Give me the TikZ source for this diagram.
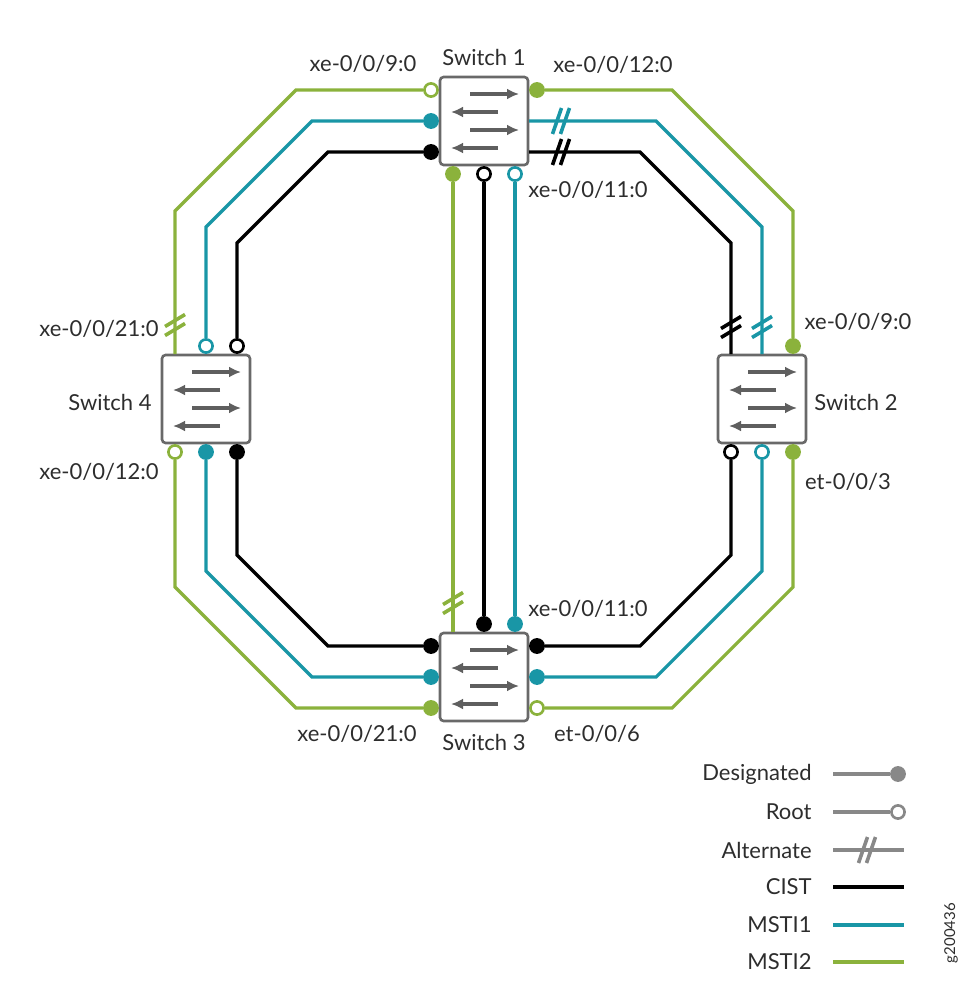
\documentclass[tikz,border=0pt]{standalone}
\usepackage{fontspec}
\setmainfont{Lato}
\usetikzlibrary{shapes,arrows.meta,positioning}

\definecolor{tealc}{RGB}{25,150,166}
\definecolor{greenc}{RGB}{139,178,60}
\definecolor{boxgray}{RGB}{105,105,105}
\definecolor{arrgray}{RGB}{95,95,95}
\definecolor{lgdgray}{RGB}{136,136,136}
\definecolor{textgray}{RGB}{45,45,45}

\begin{document}
\begin{tikzpicture}[x=0.5pt,y=-0.5pt,
    cist/.style={line width=1.6pt, black},
    msti1/.style={line width=1.6pt, tealc},
    msti2/.style={line width=1.6pt, greenc},
    lgdline/.style={line width=1.6pt, lgdgray},
    switchbox/.style={draw=boxgray, line width=1.3pt, fill=white, rounded corners=1.8pt, minimum size=44pt, inner sep=0pt},
    swarrow/.style={line width=1.6pt, arrgray, >={Latex[length=6pt,width=5.5pt]}, ->},
    desig/.style={circle, draw=#1, fill=#1, line width=1.3pt, inner sep=0pt, minimum size=6.6pt},
    root/.style={circle, draw=#1, fill=white, line width=1.3pt, inner sep=0pt, minimum size=6.6pt},
    lbl/.style={text=textgray, font=\fontsize{11}{13}\selectfont, inner sep=0pt},
    hashh/.pic={\draw[line width=1.8pt] (-8.5,13) -- (0.5,-13) (-0.5,13) -- (8.5,-13);},
    hashv/.pic={\draw[line width=1.8pt] (-10,1.5) -- (10,-10.5) (-10,10.5) -- (10,-1.5);}]
    \useasboundingbox (0,0) rectangle (975,990);

    % switches
    \node [switchbox] (sw1) at (484,121) {};
    \node [switchbox] (sw2) at (762,399) {};
    \node [switchbox] (sw3) at (484,677) {};
    \node [switchbox] (sw4) at (206,399) {};

    \foreach \s in {sw1,sw2,sw3,sw4} {
        \draw[swarrow] ([shift={(-14,-27)}]\s.center) -- ++(49,0);
        \draw[swarrow] ([shift={(14,-9)}]\s.center) -- ++(-47,0);
        \draw[swarrow] ([shift={(-14,9)}]\s.center) -- ++(49,0);
        \draw[swarrow] ([shift={(14,27)}]\s.center) -- ++(-47,0);
    }

    % ports of switch 1
    \node [root=greenc] (s1gw) at ([shift={(-53,-31)}]sw1.center) {};
    \node [desig=tealc] (s1tw) at ([shift={(-53,0)}]sw1.center) {};
    \node [desig=black] (s1kw) at ([shift={(-53,31)}]sw1.center) {};
    \node [desig=greenc] (s1ge) at ([shift={(53,-31)}]sw1.center) {};
    \coordinate (s1te) at ([shift={(45,0)}]sw1.center);
    \coordinate (s1ke) at ([shift={(45,31)}]sw1.center);
    \node [desig=greenc] (s1gs) at ([shift={(-31,53)}]sw1.center) {};
    \node [root=black] (s1ks) at ([shift={(0,53)}]sw1.center) {};
    \node [root=tealc] (s1ts) at ([shift={(31,53)}]sw1.center) {};

    % ports of switch 2
    \coordinate (s2kn) at ([shift={(-31,-45)}]sw2.center);
    \coordinate (s2tn) at ([shift={(0,-45)}]sw2.center);
    \node [desig=greenc] (s2gn) at ([shift={(31,-53)}]sw2.center) {};
    \node [root=black] (s2ks) at ([shift={(-31,53)}]sw2.center) {};
    \node [root=tealc] (s2ts) at ([shift={(0,53)}]sw2.center) {};
    \node [desig=greenc] (s2gs) at ([shift={(31,53)}]sw2.center) {};

    % ports of switch 3
    \coordinate (s3gn) at ([shift={(-31,-45)}]sw3.center);
    \node [desig=black] (s3kn) at ([shift={(0,-53)}]sw3.center) {};
    \node [desig=tealc] (s3tn) at ([shift={(31,-53)}]sw3.center) {};
    \node [desig=black] (s3kw) at ([shift={(-53,-31)}]sw3.center) {};
    \node [desig=tealc] (s3tw) at ([shift={(-53,0)}]sw3.center) {};
    \node [desig=greenc] (s3gw) at ([shift={(-53,31)}]sw3.center) {};
    \node [desig=black] (s3ke) at ([shift={(53,-31)}]sw3.center) {};
    \node [desig=tealc] (s3te) at ([shift={(53,0)}]sw3.center) {};
    \node [root=greenc] (s3ge) at ([shift={(53,31)}]sw3.center) {};

    % ports of switch 4
    \coordinate (s4gn) at ([shift={(-31,-45)}]sw4.center);
    \node [root=tealc] (s4tn) at ([shift={(0,-53)}]sw4.center) {};
    \node [root=black] (s4kn) at ([shift={(31,-53)}]sw4.center) {};
    \node [root=greenc] (s4gs) at ([shift={(-31,53)}]sw4.center) {};
    \node [desig=tealc] (s4ts) at ([shift={(0,53)}]sw4.center) {};
    \node [desig=black] (s4ks) at ([shift={(31,53)}]sw4.center) {};

    % MSTI2
    \draw[msti2] (s1gw) -- ++(-135,0) -- ++(-121,121) -- (s4gn);
    \draw[msti2] (s4gs) -- ++(0,135) -- ++(121,121) -- (s3gw);
    \draw[msti2] (s3ge) -- ++(135,0) -- ++(121,-121) -- (s2gs);
    \draw[msti2] (s2gn) -- ++(0,-135) -- ++(-121,-121) -- (s1ge);
    \draw[msti2] (s1gs) -- (s3gn);

    % MSTI1
    \draw[msti1] (s1tw) -- ++(-119,0) -- ++(-106,106) -- (s4tn);
    \draw[msti1] (s4ts) -- ++(0,119) -- ++(106,106) -- (s3tw);
    \draw[msti1] (s3te) -- ++(119,0) -- ++(106,-106) -- (s2ts);
    \draw[msti1] (s1te) -- ++(127,0) -- ++(106,106) -- (s2tn);
    \draw[msti1] (s1ts) -- (s3tn);

    % CIST
    \draw[cist] (s1kw) -- ++(-103,0) -- ++(-91,91) -- (s4kn);
    \draw[cist] (s4ks) -- ++(0,103) -- ++(91,91) -- (s3kw);
    \draw[cist] (s3ke) -- ++(103,0) -- ++(91,-91) -- (s2ks);
    \draw[cist] (s1ke) -- ++(111,0) -- ++(91,91) -- (s2kn);
    \draw[cist] (s1ks) -- (s3kn);

    % alternate ports
    \pic[color=tealc] at ([shift={(77,0)}]sw1.center) {hashh};
    \pic[color=black] at ([shift={(77,31)}]sw1.center) {hashh};
    \pic[color=black] at ([shift={(-31,-72)}]sw2.center) {hashv};
    \pic[color=tealc] at ([shift={(0,-72)}]sw2.center) {hashv};
    \pic[color=greenc] at ([shift={(-31,-74)}]sw3.center) {hashv};
    \pic[color=greenc] at ([shift={(-31,-74)}]sw4.center) {hashv};

    % labels
    \node [lbl] (n1) at (484,57) {Switch 1};
    \node [lbl] (n2) at (856,402) {Switch 2};
    \node [lbl] (n3) at (484,742) {Switch 3};
    \node [lbl] (n4) at (110,402) {Switch 4};
    \node [lbl] (i1gw) at (363,64) {xe-0/0/9:0};
    \node [lbl] (i1ge) at (613,65) {xe-0/0/12:0};
    \node [lbl] (i1ts) at (588,190) {xe-0/0/11:0};
    \node [lbl] (i2gn) at (858,322) {xe-0/0/9:0};
    \node [lbl] (i2gs) at (848,482) {et-0/0/3};
    \node [lbl] (i3tn) at (588,609) {xe-0/0/11:0};
    \node [lbl] (i3gw) at (357,734) {xe-0/0/21:0};
    \node [lbl] (i3ge) at (597,734) {et-0/0/6};
    \node [lbl] (i4gn) at (99,329) {xe-0/0/21:0};
    \node [lbl] (i4gs) at (99,472) {xe-0/0/12:0};

    % legend
    \node [lbl, anchor=east] (lgdes) at (812,774) {Designated};
    \coordinate (lgdesa) at (833,774);
    \node [desig=lgdgray] (lgdesb) at (898,774) {};
    \draw[lgdline] (lgdesa) -- (lgdesb);

    \node [lbl, anchor=east] (lgroot) at (812,812) {Root};
    \coordinate (lgroota) at (833,812);
    \node [root=lgdgray] (lgrootb) at (898,812) {};
    \draw[lgdline] (lgroota) -- (lgrootb);

    \node [lbl, anchor=east] (lgalt) at (812,850) {Alternate};
    \coordinate (lgalta) at (833,850);
    \coordinate (lgaltb) at (904,850);
    \draw[lgdline] (lgalta) -- (lgaltb);
    \pic[color=lgdgray] at (867,850) {hashh};

    \foreach \nm/\y/\sty in {CIST/887/cist, MSTI1/925/msti1, MSTI2/962/msti2} {
        \node [lbl, anchor=east] (lg\nm) at (812,\y) {\nm};
        \coordinate (lg\nm a) at (833,\y);
        \coordinate (lg\nm b) at (904,\y);
        \draw[\sty] (lg\nm a) -- (lg\nm b);
    }

    \node [lbl, rotate=90, font=\fontsize{7.5}{9}\selectfont] (fig) at (951,933) {g200436};
\end{tikzpicture}
\end{document}
